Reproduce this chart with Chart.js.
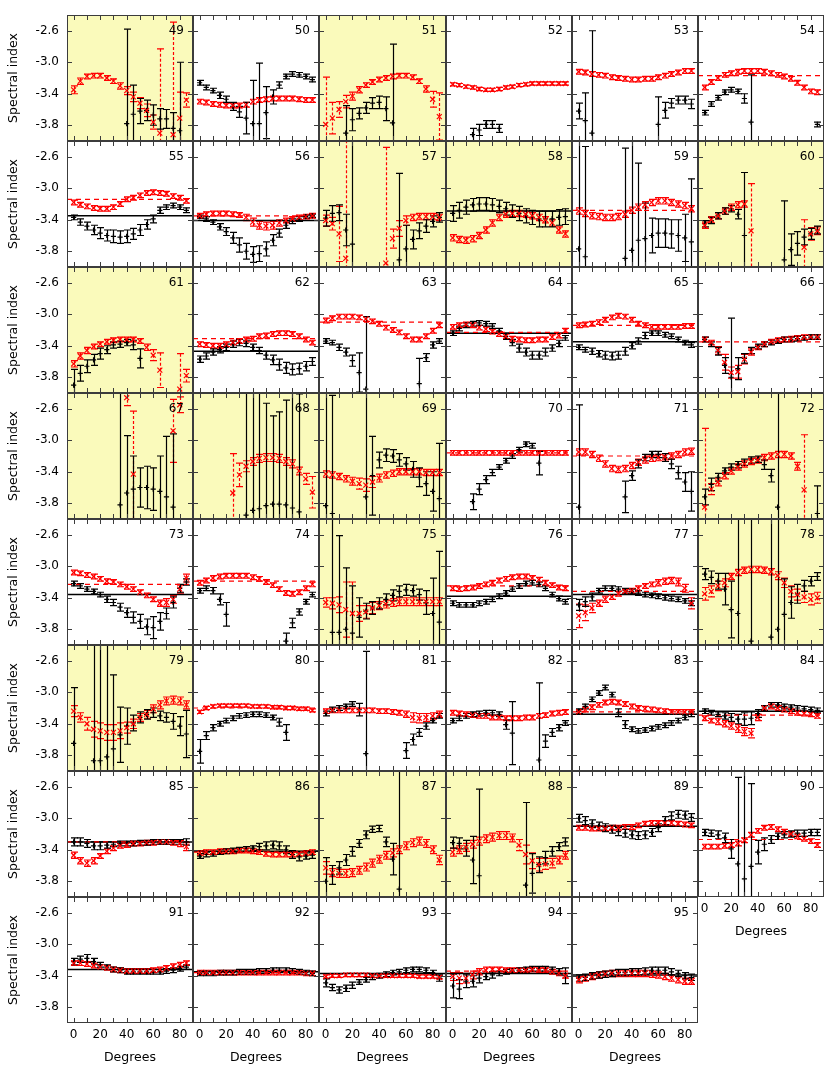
<!DOCTYPE html>
<html>
<head>
<meta charset="utf-8">
<script src="https://cdn.jsdelivr.net/npm/chart.js@4.4.1/dist/chart.umd.min.js"></script>
<style>
  body { margin: 0; background: #fff; }
  #wrap { position: relative; width: 830px; height: 1068px; }
  #wrap canvas { position: absolute; }
</style>
</head>
<body>
<div id="wrap"></div>
<script>
// panel numbers and which ones get the yellow background
const panelIds = [49,50,51,52,53,54,55,56,57,58,59,60,61,62,63,64,65,66,67,68,69,70,71,72,
  73,74,75,76,77,78,79,80,81,82,83,84,85,86,87,88,89,90,91,92,93,94,95];
const highlighted = [49,51,57,58,60,61,67,68,69,72,75,78,79,86,87,88];

const degrees = [0,5,10,15,20,25,30,35,40,45,50,55,60,65,70,75,80,85];
const xTicks = [0,20,40,60,80];
const yTicks = [-3.8,-3.4,-3.0,-2.6];

// black series (one row per panel, 49..95)
const blackMean = [
  [null,null,null,null,null,null,null,null,-3.78,-3.66,-3.62,-3.61,-3.67,-3.72,-3.72,-3.84,-3.87,null],
  [-3.26,-3.32,-3.36,-3.42,-3.47,-3.56,-3.63,-3.71,-3.78,-3.78,-3.64,-3.44,-3.29,-3.18,-3.15,-3.16,-3.18,-3.22],
  [null,null,null,-3.9,-3.73,-3.65,-3.58,-3.52,-3.51,-3.59,-3.77,null,null,null,null,null,null,null],
  [null,null,null,-3.92,-3.86,-3.79,-3.79,-3.84,null,null,null,null,null,null,null,null,null,null],
  [-3.62,-3.74,-3.9,null,null,null,null,null,null,null,null,null,-3.79,-3.61,-3.52,-3.48,-3.48,-3.53],
  [-3.64,-3.53,-3.45,-3.38,-3.35,-3.37,-3.46,-3.76,null,null,null,null,null,null,null,null,null,-3.79],
  [-3.37,-3.43,-3.48,-3.53,-3.57,-3.6,-3.61,-3.62,-3.61,-3.58,-3.53,-3.46,-3.39,-3.28,-3.24,-3.22,-3.24,-3.28],
  [-3.36,-3.39,-3.43,-3.49,-3.55,-3.63,-3.72,-3.8,-3.84,-3.83,-3.77,-3.66,-3.57,-3.47,-3.42,-3.39,-3.36,-3.35],
  [-3.38,-3.32,-3.31,-3.53,-3.71,null,null,null,null,null,null,-3.91,-3.77,-3.65,-3.54,-3.48,-3.42,-3.37],
  [-3.32,-3.28,-3.24,-3.21,-3.2,-3.2,-3.21,-3.23,-3.26,-3.29,-3.32,-3.35,-3.37,-3.39,-3.39,-3.39,-3.37,-3.36],
  [-3.77,-3.87,null,null,null,null,null,-3.89,-3.79,-3.66,-3.64,-3.6,-3.57,-3.57,-3.58,-3.6,-3.63,-3.68],
  [-3.45,-3.41,-3.35,-3.29,-3.26,-3.33,-3.6,null,null,null,null,null,-3.91,-3.78,-3.7,-3.62,-3.58,-3.53],
  [-3.9,-3.75,-3.66,-3.58,-3.5,-3.45,-3.39,-3.38,-3.36,-3.39,-3.56,null,null,null,null,null,null,null],
  [-3.57,-3.53,-3.48,-3.45,-3.42,-3.38,-3.36,-3.37,-3.42,-3.46,-3.52,-3.58,-3.64,-3.68,-3.7,-3.69,-3.66,-3.6],
  [-3.34,-3.36,-3.42,-3.48,-3.59,-3.74,-3.95,null,null,null,null,null,null,null,-3.88,-3.55,-3.39,-3.34],
  [-3.24,-3.18,-3.14,-3.12,-3.11,-3.12,-3.15,-3.21,-3.28,-3.36,-3.43,-3.48,-3.52,-3.52,-3.48,-3.43,-3.37,-3.3],
  [-3.42,-3.45,-3.47,-3.5,-3.52,-3.53,-3.52,-3.47,-3.4,-3.34,-3.27,-3.24,-3.24,-3.26,-3.28,-3.32,-3.36,-3.39],
  [-3.32,-3.38,-3.47,-3.65,-3.8,-3.69,-3.56,-3.46,-3.41,-3.38,-3.36,-3.34,-3.32,-3.32,-3.31,-3.3,-3.29,-3.29],
  [null,null,null,null,null,null,null,-3.82,-3.67,-3.62,-3.6,-3.6,-3.62,-3.65,-3.72,-3.85,null,null],
  [null,null,null,null,null,null,null,-3.95,-3.89,-3.87,-3.83,-3.81,-3.81,-3.82,-3.86,-3.91,null,null],
  [-3.83,-3.93,null,null,null,null,-3.72,-3.45,-3.25,-3.19,-3.2,-3.25,-3.3,-3.37,-3.47,-3.55,-3.65,-3.74],
  [null,null,null,-3.78,-3.62,-3.5,-3.41,-3.34,-3.26,-3.2,-3.12,-3.05,-3.07,-3.29,null,null,null,null],
  [-3.85,null,null,null,null,null,null,-3.72,-3.45,-3.3,-3.22,-3.18,-3.18,-3.22,-3.3,-3.41,-3.53,-3.65],
  [-3.72,-3.56,-3.47,-3.39,-3.34,-3.31,-3.28,-3.25,-3.24,-3.31,-3.45,-3.85,null,null,null,null,null,-3.93],
  [-3.22,-3.25,-3.29,-3.32,-3.36,-3.42,-3.46,-3.52,-3.59,-3.65,-3.7,-3.77,-3.78,-3.7,-3.6,-3.46,-3.28,-3.2],
  [-3.31,-3.28,-3.31,-3.42,-3.61,null,null,null,null,null,null,null,null,-3.95,-3.72,-3.58,-3.45,-3.36],
  [null,-3.84,-3.84,-3.8,-3.85,-3.65,-3.57,-3.53,-3.47,-3.42,-3.37,-3.32,-3.3,-3.31,-3.36,-3.46,-3.6,-3.71],
  [-3.47,-3.49,-3.49,-3.49,-3.47,-3.45,-3.42,-3.38,-3.34,-3.29,-3.25,-3.22,-3.21,-3.23,-3.28,-3.36,-3.41,-3.45],
  [-3.49,-3.45,-3.39,-3.31,-3.28,-3.28,-3.29,-3.31,-3.32,-3.34,-3.36,-3.37,-3.38,-3.4,-3.41,-3.42,-3.44,-3.47],
  [-3.1,-3.14,-3.19,-3.29,-3.55,-3.6,null,-3.95,null,null,-3.9,-3.8,-3.61,-3.46,-3.35,-3.25,-3.19,-3.13],
  [-3.65,null,null,-3.87,-3.87,-3.82,-3.72,-3.54,-3.43,-3.39,-3.32,-3.28,-3.26,-3.3,-3.32,-3.37,-3.43,-3.53],
  [-3.75,-3.55,-3.45,-3.4,-3.36,-3.33,-3.3,-3.29,-3.28,-3.28,-3.29,-3.32,-3.38,-3.51,null,null,null,null],
  [-3.27,-3.22,-3.2,-3.18,-3.15,-3.22,-3.78,null,null,null,null,null,-3.74,-3.6,-3.51,-3.43,-3.36,-3.3],
  [-3.36,-3.33,-3.3,-3.28,-3.27,-3.26,-3.26,-3.28,-3.41,-3.52,null,null,null,-3.86,-3.62,-3.51,-3.45,-3.39],
  [-3.24,-3.18,-3.09,-3.01,-2.94,-3.03,-3.26,-3.41,-3.47,-3.49,-3.48,-3.46,-3.44,-3.42,-3.39,-3.36,-3.32,-3.28],
  [-3.24,-3.26,-3.28,-3.3,-3.32,-3.34,-3.34,-3.33,-3.27,-3.2,-3.16,-3.16,-3.18,-3.19,-3.2,-3.21,-3.22,-3.23],
  [-3.3,-3.3,-3.32,-3.35,-3.35,-3.34,-3.33,-3.32,-3.32,-3.32,-3.31,-3.31,-3.3,-3.3,-3.3,-3.3,-3.3,-3.3],
  [-3.48,-3.46,-3.45,-3.43,-3.42,-3.41,-3.4,-3.39,-3.38,-3.36,-3.35,-3.34,-3.35,-3.4,-3.46,-3.49,-3.48,-3.47],
  [-3.8,-3.72,-3.63,-3.53,-3.42,-3.32,-3.21,-3.14,-3.13,-3.3,-3.52,-3.9,null,null,null,null,null,null],
  [-3.31,-3.32,-3.38,-3.53,-3.73,null,null,null,null,null,null,-3.85,-3.7,-3.59,-3.5,-3.42,-3.36,-3.3],
  [-3.0,-3.03,-3.07,-3.1,-3.12,-3.14,-3.17,-3.19,-3.21,-3.22,-3.21,-3.18,-3.12,-3.03,-2.97,-2.95,-2.96,-2.99],
  [-3.18,-3.19,-3.21,-3.25,-3.39,-3.58,-3.77,-3.61,-3.43,-3.33,-3.27,-3.23,-3.21,-3.2,-3.19,-3.19,-3.18,-3.18],
  [-3.22,-3.19,-3.18,-3.22,-3.26,-3.29,-3.32,-3.33,-3.35,-3.35,-3.35,-3.35,-3.35,-3.35,-3.34,-3.33,-3.31,-3.29],
  [-3.37,-3.37,-3.37,-3.36,-3.36,-3.36,-3.35,-3.35,-3.35,-3.34,-3.34,-3.33,-3.33,-3.33,-3.34,-3.35,-3.36,-3.37],
  [-3.49,-3.55,-3.58,-3.56,-3.52,-3.48,-3.45,-3.42,-3.4,-3.38,-3.36,-3.35,-3.33,-3.32,-3.32,-3.33,-3.36,-3.43],
  [-3.53,-3.57,-3.47,-3.47,-3.43,-3.41,-3.39,-3.37,-3.35,-3.34,-3.33,-3.32,-3.31,-3.31,-3.31,-3.32,-3.35,-3.4],
  [-3.43,-3.42,-3.4,-3.39,-3.38,-3.37,-3.36,-3.36,-3.35,-3.35,-3.34,-3.33,-3.33,-3.33,-3.35,-3.37,-3.4,-3.42]
];
const blackErr = [
  [0,0,0,0,0,0,0,0,1.2,0.37,0.16,0.13,0.13,0.13,0.12,0.2,0.87,0],
  [0.03,0.03,0.03,0.04,0.04,0.05,0.07,0.2,0.55,0.77,0.33,0.09,0.04,0.03,0.03,0.03,0.03,0.03],
  [0,0,0,0.35,0.14,0.07,0.07,0.07,0.08,0.15,1.0,0,0,0,0,0,0,0],
  [0,0,0,0.08,0.07,0.05,0.05,0.05,0,0,0,0,0,0,0,0,0,0],
  [0.1,0.35,1.3,0,0,0,0,0,0,0,0,0,0.35,0.1,0.06,0.05,0.05,0.06],
  [0.03,0.03,0.03,0.03,0.03,0.03,0.06,0.6,0,0,0,0,0,0,0,0,0,0.03],
  [0.03,0.04,0.05,0.06,0.07,0.07,0.08,0.08,0.08,0.07,0.07,0.06,0.05,0.04,0.03,0.03,0.03,0.03],
  [0.02,0.03,0.03,0.04,0.05,0.07,0.09,0.1,0.1,0.1,0.09,0.07,0.05,0.04,0.03,0.03,0.02,0.02],
  [0.1,0.1,0.1,0.2,1.5,0,0,0,0,0,0,1.1,0.3,0.12,0.1,0.08,0.07,0.06],
  [0.1,0.1,0.09,0.08,0.08,0.08,0.08,0.08,0.08,0.08,0.09,0.09,0.09,0.1,0.1,0.1,0.1,0.1],
  [1.4,1.4,0,0,0,0,0,1.4,1.5,0.98,0.45,0.22,0.18,0.18,0.18,0.2,0.3,0.8],
  [0.04,0.04,0.04,0.04,0.04,0.06,0.8,0,0,0,0,0,0.75,0.2,0.15,0.1,0.07,0.05],
  [0.2,0.1,0.08,0.07,0.07,0.05,0.04,0.04,0.04,0.06,0.12,0,0,0,0,0,0,0],
  [0.04,0.04,0.04,0.04,0.04,0.04,0.04,0.04,0.04,0.04,0.05,0.06,0.07,0.07,0.07,0.07,0.06,0.05],
  [0.03,0.03,0.04,0.05,0.07,0.25,0.92,0,0,0,0,0,0,0,0.32,0.05,0.04,0.03],
  [0.03,0.03,0.03,0.03,0.03,0.03,0.03,0.03,0.04,0.04,0.05,0.05,0.05,0.05,0.05,0.04,0.04,0.03],
  [0.03,0.03,0.04,0.04,0.05,0.05,0.05,0.05,0.04,0.04,0.04,0.03,0.03,0.03,0.03,0.03,0.03,0.03],
  [0.03,0.03,0.05,0.1,0.75,0.14,0.06,0.04,0.03,0.03,0.03,0.03,0.03,0.03,0.03,0.03,0.03,0.03],
  [0,0,0,0,0,0,0,1.5,0.73,0.42,0.25,0.27,0.27,0.45,0.77,0.93,0,0],
  [0,0,0,0,0,0,0,1.6,1.5,1.5,1.3,1.12,1.17,1.33,1.5,1.5,0,0],
  [1.5,1.5,0,0,0,0,1.5,0.5,0.1,0.08,0.08,0.08,0.08,0.1,0.12,0.15,0.25,0.7],
  [0,0,0,0.1,0.07,0.05,0.04,0.03,0.03,0.03,0.03,0.03,0.03,0.15,0,0,0,0],
  [1.3,0,0,0,0,0,0,0.2,0.06,0.05,0.04,0.04,0.04,0.05,0.06,0.08,0.12,0.25],
  [0.1,0.08,0.05,0.04,0.04,0.04,0.04,0.04,0.04,0.06,0.08,1.5,0,0,0,0,0,0.35],
  [0.03,0.03,0.03,0.03,0.03,0.04,0.04,0.05,0.06,0.07,0.09,0.1,0.14,0.11,0.07,0.07,0.05,0.04],
  [0.03,0.03,0.04,0.07,0.15,0,0,0,0,0,0,0,0,0.1,0.06,0.04,0.03,0.03],
  [0,1.6,1.23,0.78,0.6,0.25,0.1,0.08,0.07,0.07,0.07,0.07,0.07,0.07,0.07,0.15,0.45,0.9],
  [0.03,0.03,0.03,0.03,0.03,0.03,0.03,0.03,0.03,0.03,0.03,0.03,0.03,0.03,0.03,0.03,0.03,0.03],
  [0.07,0.06,0.05,0.03,0.03,0.03,0.03,0.03,0.03,0.03,0.03,0.03,0.03,0.03,0.03,0.03,0.03,0.03],
  [0.07,0.08,0.1,0.2,0.36,1.2,0,1.6,0,0,1.5,1.4,0.45,0.2,0.12,0.07,0.06,0.05],
  [0.71,0,0,1.5,1.5,1.5,0.94,0.35,0.23,0.1,0.07,0.06,0.06,0.06,0.06,0.1,0.12,0.3],
  [0.15,0.05,0.04,0.03,0.03,0.03,0.03,0.03,0.03,0.03,0.03,0.03,0.05,0.1,0,0,0,0],
  [0.03,0.03,0.03,0.03,0.03,0.08,1.3,0,0,0,0,0,0.1,0.07,0.05,0.04,0.03,0.03],
  [0.03,0.03,0.03,0.03,0.03,0.03,0.03,0.03,0.06,0.4,0,0,0,0.98,0.08,0.05,0.04,0.03],
  [0.03,0.03,0.03,0.03,0.03,0.03,0.05,0.05,0.03,0.03,0.03,0.03,0.03,0.03,0.03,0.03,0.03,0.03],
  [0.03,0.03,0.03,0.04,0.05,0.06,0.08,0.08,0.05,0.03,0.03,0.03,0.03,0.03,0.03,0.03,0.03,0.03],
  [0.05,0.05,0.05,0.05,0.05,0.04,0.03,0.03,0.03,0.03,0.03,0.03,0.03,0.03,0.03,0.03,0.03,0.04],
  [0.03,0.03,0.03,0.03,0.03,0.03,0.03,0.03,0.03,0.04,0.05,0.05,0.05,0.05,0.05,0.05,0.04,0.04],
  [0.3,0.12,0.08,0.07,0.06,0.05,0.05,0.04,0.04,0.06,0.2,1.5,0,0,0,0,0,0],
  [0.07,0.07,0.1,0.3,1.1,0,0,0,0,0,0,1.05,0.25,0.1,0.08,0.06,0.05,0.05],
  [0.05,0.05,0.05,0.05,0.05,0.05,0.05,0.05,0.05,0.05,0.05,0.05,0.05,0.05,0.05,0.05,0.05,0.05],
  [0.04,0.04,0.05,0.06,0.12,1.1,1.4,1.05,0.15,0.08,0.05,0.04,0.04,0.04,0.04,0.04,0.04,0.04],
  [0.04,0.04,0.05,0.04,0.03,0.03,0.03,0.03,0.03,0.03,0.03,0.03,0.03,0.03,0.03,0.03,0.03,0.03],
  [0.03,0.03,0.03,0.03,0.03,0.03,0.03,0.03,0.03,0.03,0.03,0.03,0.03,0.03,0.03,0.03,0.03,0.03],
  [0.05,0.04,0.04,0.04,0.04,0.03,0.03,0.03,0.03,0.03,0.03,0.03,0.03,0.03,0.03,0.03,0.03,0.04],
  [0.15,0.12,0.08,0.07,0.06,0.04,0.04,0.03,0.03,0.03,0.03,0.03,0.03,0.03,0.03,0.03,0.04,0.1],
  [0.04,0.04,0.04,0.04,0.04,0.04,0.04,0.04,0.04,0.04,0.04,0.04,0.04,0.04,0.04,0.04,0.04,0.04]
];

// red series
const redMean = [
  [-3.35,-3.24,-3.18,-3.17,-3.17,-3.2,-3.24,-3.3,-3.36,-3.44,-3.52,-3.61,-3.76,-3.9,null,-3.92,-3.71,-3.48],
  [-3.5,-3.51,-3.53,-3.54,-3.55,-3.55,-3.55,-3.54,-3.5,-3.48,-3.47,-3.46,-3.46,-3.46,-3.46,-3.47,-3.48,-3.48],
  [-3.79,-3.71,-3.6,-3.5,-3.43,-3.35,-3.29,-3.25,-3.22,-3.2,-3.18,-3.17,-3.17,-3.19,-3.24,-3.34,-3.47,-3.69],
  [-3.28,-3.29,-3.31,-3.32,-3.34,-3.35,-3.35,-3.34,-3.32,-3.31,-3.29,-3.28,-3.27,-3.27,-3.27,-3.27,-3.27,-3.27],
  [-3.12,-3.13,-3.15,-3.16,-3.17,-3.19,-3.2,-3.21,-3.22,-3.22,-3.21,-3.21,-3.19,-3.17,-3.15,-3.13,-3.11,-3.11],
  [-3.32,-3.25,-3.2,-3.16,-3.14,-3.12,-3.11,-3.11,-3.11,-3.12,-3.14,-3.16,-3.18,-3.21,-3.26,-3.32,-3.37,-3.38],
  [-3.18,-3.21,-3.23,-3.25,-3.26,-3.26,-3.24,-3.2,-3.14,-3.12,-3.09,-3.06,-3.05,-3.06,-3.07,-3.1,-3.12,-3.16],
  [-3.35,-3.33,-3.32,-3.32,-3.32,-3.33,-3.34,-3.37,-3.43,-3.47,-3.48,-3.47,-3.44,-3.41,-3.39,-3.37,-3.36,-3.35],
  [-3.41,-3.45,-3.58,-3.89,null,null,null,null,null,-3.95,-3.64,-3.51,-3.41,-3.37,-3.36,-3.36,-3.36,-3.37],
  [-3.63,-3.65,-3.66,-3.64,-3.6,-3.53,-3.44,-3.37,-3.33,-3.32,-3.32,-3.33,-3.35,-3.37,-3.4,-3.44,-3.53,-3.58],
  [-3.29,-3.32,-3.35,-3.36,-3.37,-3.37,-3.36,-3.33,-3.28,-3.24,-3.21,-3.18,-3.16,-3.16,-3.18,-3.2,-3.22,-3.26],
  [-3.47,-3.4,-3.35,-3.29,-3.24,-3.21,-3.2,-3.54,null,null,null,null,null,null,null,-3.75,-3.58,-3.54],
  [-3.63,-3.53,-3.46,-3.41,-3.38,-3.35,-3.33,-3.32,-3.32,-3.32,-3.34,-3.42,-3.52,-3.71,null,null,-3.95,-3.78],
  [-3.38,-3.39,-3.4,-3.4,-3.38,-3.36,-3.34,-3.32,-3.31,-3.28,-3.27,-3.25,-3.24,-3.24,-3.25,-3.28,-3.32,-3.36],
  [-3.08,-3.05,-3.03,-3.03,-3.03,-3.04,-3.06,-3.09,-3.12,-3.17,-3.2,-3.23,-3.28,-3.32,-3.32,-3.28,-3.21,-3.14],
  [-3.16,-3.14,-3.13,-3.14,-3.17,-3.19,-3.22,-3.25,-3.28,-3.31,-3.32,-3.33,-3.33,-3.32,-3.32,-3.29,-3.27,-3.21],
  [-3.14,-3.13,-3.12,-3.1,-3.07,-3.04,-3.02,-3.03,-3.07,-3.12,-3.14,-3.16,-3.16,-3.16,-3.16,-3.16,-3.15,-3.15],
  [-3.32,-3.36,-3.46,-3.61,-3.74,-3.73,-3.57,-3.48,-3.42,-3.38,-3.35,-3.33,-3.32,-3.31,-3.3,-3.29,-3.29,-3.29],
  [null,null,null,null,null,null,null,null,-2.46,-3.43,null,null,null,null,null,-2.88,-2.55,null],
  [null,null,null,null,null,-3.67,-3.44,-3.33,-3.27,-3.23,-3.22,-3.22,-3.23,-3.27,-3.3,-3.39,-3.49,-3.66],
  [-3.43,-3.44,-3.46,-3.49,-3.52,-3.55,-3.57,-3.53,-3.48,-3.44,-3.42,-3.4,-3.4,-3.4,-3.4,-3.41,-3.41,-3.41],
  [-3.16,-3.16,-3.16,-3.16,-3.16,-3.16,-3.16,-3.16,-3.16,-3.16,-3.16,-3.16,-3.16,-3.16,-3.16,-3.16,-3.16,-3.16],
  [-3.15,-3.15,-3.18,-3.23,-3.3,-3.36,-3.37,-3.36,-3.32,-3.28,-3.25,-3.23,-3.22,-3.21,-3.2,-3.18,-3.15,-3.14],
  [-3.85,-3.62,-3.53,-3.45,-3.39,-3.34,-3.3,-3.27,-3.25,-3.22,-3.2,-3.18,-3.18,-3.2,-3.33,-3.63,null,null],
  [-3.08,-3.09,-3.11,-3.13,-3.16,-3.19,-3.2,-3.23,-3.26,-3.29,-3.33,-3.37,-3.42,-3.47,-3.46,-3.42,-3.29,-3.15],
  [-3.21,-3.18,-3.15,-3.13,-3.12,-3.12,-3.12,-3.12,-3.14,-3.16,-3.2,-3.24,-3.29,-3.34,-3.35,-3.33,-3.28,-3.23],
  [-3.46,-3.47,-3.49,-3.55,-3.6,-3.6,-3.58,-3.53,-3.5,-3.48,-3.46,-3.45,-3.45,-3.45,-3.45,-3.45,-3.45,-3.45],
  [-3.28,-3.29,-3.28,-3.27,-3.25,-3.23,-3.21,-3.18,-3.16,-3.14,-3.13,-3.13,-3.15,-3.17,-3.21,-3.24,-3.27,-3.28],
  [-3.63,-3.59,-3.53,-3.47,-3.42,-3.39,-3.35,-3.32,-3.31,-3.28,-3.25,-3.23,-3.21,-3.19,-3.18,-3.2,-3.28,-3.47],
  [-3.35,-3.32,-3.25,-3.21,-3.13,-3.08,-3.05,-3.04,-3.04,-3.05,-3.07,-3.12,-3.21,-3.32,-3.36,-3.39,-3.42,-3.4],
  [-3.24,-3.32,-3.4,-3.47,-3.49,-3.51,-3.51,-3.49,-3.45,-3.4,-3.32,-3.28,-3.21,-3.16,-3.11,-3.1,-3.11,-3.16],
  [-3.25,-3.2,-3.18,-3.17,-3.17,-3.17,-3.17,-3.17,-3.18,-3.18,-3.18,-3.19,-3.19,-3.2,-3.2,-3.21,-3.21,-3.23],
  [-3.24,-3.23,-3.23,-3.23,-3.23,-3.23,-3.23,-3.23,-3.24,-3.24,-3.25,-3.26,-3.28,-3.32,-3.33,-3.32,-3.3,-3.28],
  [-3.26,-3.27,-3.28,-3.29,-3.3,-3.3,-3.32,-3.32,-3.33,-3.33,-3.33,-3.32,-3.32,-3.3,-3.29,-3.27,-3.26,-3.25],
  [-3.25,-3.22,-3.19,-3.16,-3.13,-3.12,-3.13,-3.15,-3.18,-3.2,-3.21,-3.22,-3.23,-3.24,-3.25,-3.25,-3.25,-3.25],
  [-3.33,-3.36,-3.37,-3.4,-3.43,-3.46,-3.5,-3.52,-3.32,-3.2,-3.18,-3.2,-3.22,-3.24,-3.26,-3.27,-3.28,-3.3],
  [-3.47,-3.54,-3.57,-3.54,-3.48,-3.42,-3.38,-3.35,-3.34,-3.32,-3.32,-3.31,-3.31,-3.3,-3.3,-3.31,-3.32,-3.36],
  [-3.44,-3.43,-3.43,-3.42,-3.42,-3.42,-3.41,-3.41,-3.42,-3.43,-3.45,-3.46,-3.46,-3.46,-3.46,-3.45,-3.44,-3.43],
  [-3.63,-3.69,-3.7,-3.7,-3.69,-3.66,-3.62,-3.57,-3.52,-3.47,-3.44,-3.4,-3.35,-3.31,-3.29,-3.32,-3.4,-3.53],
  [-3.43,-3.4,-3.37,-3.33,-3.29,-3.26,-3.24,-3.22,-3.22,-3.25,-3.34,-3.46,-3.54,-3.59,-3.58,-3.57,-3.53,-3.47],
  [-3.12,-3.12,-3.13,-3.13,-3.13,-3.12,-3.12,-3.11,-3.11,-3.09,-3.07,-3.06,-3.06,-3.06,-3.06,-3.07,-3.08,-3.09],
  [-3.36,-3.36,-3.36,-3.35,-3.34,-3.32,-3.28,-3.21,-3.16,-3.12,-3.11,-3.14,-3.17,-3.2,-3.23,-3.26,-3.29,-3.34],
  [-3.24,-3.24,-3.25,-3.27,-3.29,-3.3,-3.32,-3.33,-3.34,-3.34,-3.34,-3.34,-3.33,-3.32,-3.3,-3.28,-3.26,-3.24],
  [-3.36,-3.36,-3.36,-3.36,-3.36,-3.36,-3.36,-3.36,-3.36,-3.36,-3.36,-3.36,-3.36,-3.36,-3.36,-3.36,-3.37,-3.37],
  [-3.41,-3.4,-3.4,-3.39,-3.39,-3.39,-3.39,-3.4,-3.4,-3.4,-3.4,-3.4,-3.4,-3.4,-3.41,-3.41,-3.41,-3.42],
  [-3.41,-3.43,-3.43,-3.39,-3.35,-3.33,-3.32,-3.32,-3.33,-3.33,-3.33,-3.33,-3.32,-3.33,-3.33,-3.35,-3.37,-3.4],
  [-3.45,-3.43,-3.41,-3.39,-3.38,-3.37,-3.37,-3.37,-3.37,-3.37,-3.37,-3.38,-3.39,-3.41,-3.43,-3.45,-3.47,-3.47]
];
const redErr = [
  [0.05,0.04,0.03,0.03,0.03,0.03,0.03,0.04,0.05,0.06,0.07,0.08,0.09,1.07,0,1.43,0.33,0.09],
  [0.03,0.03,0.03,0.03,0.03,0.03,0.03,0.03,0.03,0.03,0.03,0.03,0.03,0.03,0.03,0.03,0.03,0.03],
  [0.6,0.2,0.1,0.08,0.05,0.04,0.03,0.03,0.03,0.03,0.03,0.03,0.03,0.03,0.03,0.04,0.1,0.3],
  [0.02,0.02,0.02,0.02,0.02,0.02,0.02,0.02,0.02,0.02,0.02,0.02,0.02,0.02,0.02,0.02,0.02,0.02],
  [0.03,0.03,0.03,0.03,0.03,0.03,0.03,0.03,0.03,0.03,0.03,0.03,0.03,0.03,0.03,0.03,0.03,0.03],
  [0.03,0.03,0.03,0.03,0.03,0.03,0.03,0.03,0.03,0.03,0.03,0.03,0.03,0.03,0.03,0.03,0.03,0.03],
  [0.03,0.03,0.03,0.03,0.03,0.03,0.03,0.03,0.03,0.03,0.03,0.03,0.03,0.03,0.03,0.03,0.03,0.03],
  [0.03,0.03,0.03,0.03,0.03,0.03,0.03,0.04,0.05,0.05,0.05,0.05,0.04,0.03,0.03,0.03,0.03,0.03],
  [0.07,0.08,0.35,1.5,0,0,0,0,0,1.47,0.12,0.1,0.06,0.04,0.04,0.04,0.04,0.04],
  [0.04,0.04,0.04,0.04,0.04,0.04,0.04,0.04,0.04,0.04,0.04,0.04,0.04,0.04,0.04,0.04,0.04,0.04],
  [0.04,0.04,0.04,0.04,0.04,0.04,0.04,0.04,0.04,0.04,0.04,0.04,0.04,0.04,0.04,0.04,0.04,0.04],
  [0.04,0.04,0.04,0.04,0.04,0.04,0.04,0.6,0,0,0,0,0,0,0,0.35,0.08,0.05],
  [0.04,0.04,0.04,0.03,0.03,0.03,0.03,0.03,0.03,0.03,0.03,0.04,0.07,0.22,0,0,0.45,0.08],
  [0.03,0.03,0.03,0.03,0.03,0.03,0.03,0.03,0.03,0.03,0.03,0.03,0.03,0.03,0.03,0.03,0.03,0.03],
  [0.03,0.03,0.03,0.03,0.03,0.03,0.03,0.03,0.03,0.03,0.03,0.03,0.03,0.03,0.03,0.03,0.03,0.03],
  [0.03,0.03,0.03,0.03,0.03,0.03,0.03,0.03,0.03,0.03,0.03,0.03,0.03,0.03,0.03,0.03,0.03,0.03],
  [0.03,0.03,0.03,0.03,0.03,0.03,0.03,0.03,0.03,0.03,0.03,0.03,0.03,0.03,0.03,0.03,0.03,0.03],
  [0.03,0.03,0.05,0.1,0.07,0.08,0.06,0.04,0.03,0.03,0.03,0.03,0.03,0.03,0.03,0.03,0.03,0.03],
  [0,0,0,0,0,0,0,0,0.1,0.8,0,0,0,0,0,0.4,0.1,0],
  [0,0,0,0,0,0.5,0.15,0.07,0.05,0.05,0.05,0.05,0.05,0.05,0.05,0.05,0.07,0.2],
  [0.04,0.04,0.04,0.04,0.05,0.07,0.08,0.07,0.05,0.04,0.04,0.04,0.04,0.04,0.04,0.04,0.04,0.04],
  [0.03,0.03,0.03,0.03,0.03,0.03,0.03,0.03,0.03,0.03,0.03,0.03,0.03,0.03,0.03,0.03,0.03,0.03],
  [0.04,0.04,0.04,0.04,0.04,0.04,0.04,0.04,0.04,0.04,0.04,0.04,0.04,0.04,0.04,0.04,0.04,0.04],
  [1.0,0.07,0.05,0.04,0.04,0.04,0.04,0.04,0.04,0.04,0.04,0.04,0.04,0.04,0.05,0.7,0,0],
  [0.03,0.03,0.03,0.03,0.03,0.03,0.03,0.03,0.03,0.03,0.03,0.03,0.03,0.04,0.05,0.05,0.05,0.05],
  [0.03,0.03,0.03,0.03,0.03,0.03,0.03,0.03,0.03,0.03,0.03,0.03,0.03,0.03,0.03,0.03,0.03,0.03],
  [0.06,0.07,0.1,0.35,0.4,0.1,0.08,0.07,0.05,0.05,0.05,0.05,0.05,0.05,0.05,0.05,0.05,0.05],
  [0.03,0.03,0.03,0.03,0.03,0.03,0.03,0.03,0.03,0.03,0.03,0.03,0.03,0.03,0.03,0.03,0.03,0.03],
  [0.15,0.1,0.06,0.04,0.04,0.03,0.03,0.03,0.03,0.03,0.03,0.03,0.04,0.04,0.04,0.05,0.05,0.07],
  [0.08,0.07,0.06,0.05,0.04,0.04,0.04,0.04,0.04,0.04,0.04,0.05,0.06,0.07,0.07,0.07,0.07,0.07],
  [0.07,0.06,0.08,0.1,0.1,0.1,0.1,0.1,0.07,0.06,0.05,0.05,0.05,0.05,0.05,0.05,0.05,0.05],
  [0.02,0.02,0.02,0.02,0.02,0.02,0.02,0.02,0.02,0.02,0.02,0.02,0.02,0.02,0.02,0.02,0.02,0.02],
  [0.03,0.03,0.03,0.03,0.03,0.03,0.03,0.03,0.03,0.03,0.03,0.03,0.04,0.06,0.06,0.05,0.04,0.04],
  [0.03,0.03,0.03,0.03,0.03,0.03,0.03,0.03,0.03,0.03,0.03,0.03,0.03,0.03,0.03,0.03,0.03,0.03],
  [0.03,0.03,0.03,0.03,0.03,0.03,0.03,0.03,0.03,0.03,0.03,0.03,0.03,0.03,0.03,0.03,0.03,0.03],
  [0.03,0.03,0.04,0.04,0.04,0.05,0.05,0.06,0.04,0.03,0.03,0.03,0.03,0.03,0.03,0.03,0.03,0.03],
  [0.04,0.04,0.04,0.04,0.03,0.03,0.03,0.03,0.03,0.03,0.03,0.03,0.03,0.03,0.03,0.03,0.04,0.05],
  [0.03,0.03,0.03,0.03,0.03,0.03,0.03,0.03,0.03,0.03,0.03,0.03,0.03,0.03,0.03,0.03,0.03,0.03],
  [0.08,0.05,0.05,0.05,0.05,0.05,0.05,0.05,0.05,0.05,0.05,0.05,0.05,0.05,0.05,0.05,0.05,0.06],
  [0.05,0.05,0.05,0.05,0.05,0.05,0.05,0.05,0.05,0.05,0.07,0.12,0.1,0.08,0.07,0.06,0.05,0.05],
  [0.03,0.03,0.03,0.03,0.03,0.03,0.03,0.03,0.03,0.03,0.03,0.03,0.03,0.03,0.03,0.03,0.03,0.03],
  [0.03,0.03,0.03,0.03,0.03,0.03,0.03,0.03,0.03,0.03,0.03,0.03,0.03,0.03,0.03,0.03,0.03,0.03],
  [0.03,0.03,0.03,0.03,0.03,0.03,0.03,0.03,0.03,0.03,0.03,0.03,0.03,0.03,0.03,0.03,0.03,0.03],
  [0.03,0.03,0.03,0.03,0.03,0.03,0.03,0.03,0.03,0.03,0.03,0.03,0.03,0.03,0.03,0.03,0.03,0.03],
  [0.02,0.02,0.02,0.02,0.02,0.02,0.02,0.02,0.02,0.02,0.02,0.02,0.02,0.02,0.02,0.02,0.02,0.02],
  [0.05,0.07,0.06,0.05,0.04,0.04,0.03,0.03,0.03,0.03,0.03,0.03,0.03,0.03,0.03,0.03,0.03,0.03],
  [0.04,0.04,0.04,0.04,0.04,0.04,0.04,0.04,0.04,0.04,0.04,0.04,0.04,0.04,0.04,0.04,0.04,0.04]
];

// horizontal reference levels (null = not drawn)
const blackLevel = [null,null,null,null,null,null, -3.35,-3.41,null,-3.29,null,null,
  null,-3.47,null,-3.24,-3.35,null, null,null,null,null,null,null,
  -3.36,null,null,-3.38,-3.36,null, null,null,null,null,-3.28,-3.24,
  -3.3,-3.42,null,null,-3.1,null, -3.32,-3.35,-3.37,-3.37,-3.39];
const redLevel = [null,null,null,null,null,-3.17, -3.14,-3.35,null,null,-3.28,null,
  null,-3.31,-3.1,-3.23,-3.14,-3.35, null,null,null,-3.16,-3.2,null,
  -3.23,-3.19,null,-3.25,-3.32,null, null,-3.2,null,null,-3.25,-3.29,
  -3.3,-3.43,null,null,null,-3.27, null,-3.36,null,-3.34,null];

// grid geometry of the figure
const colX = [67, 193, 319, 446, 572, 698, 824];
const rowY = [15, 141, 267, 393, 519, 645, 771, 897, 1023];
const FONT = 'DejaVu Sans';

const errorBars = {
  id: 'errorBars',
  beforeDatasetsDraw(chart) {
    const {ctx, chartArea: a, scales: {x, y}} = chart;
    ctx.save();
    ctx.beginPath();
    ctx.rect(a.left, a.top, a.right - a.left, a.bottom - a.top);
    ctx.clip();
    chart.data.datasets.forEach(ds => {
      if (!ds.withErrors) return;
      ctx.strokeStyle = ds.borderColor;
      ctx.lineWidth = 1.2;
      ds.data.forEach(p => {
        if (!p.e) return;
        const px = Math.round(x.getPixelForValue(p.x)) + 0.5;
        const y1 = y.getPixelForValue(p.y + p.e);
        const y2 = y.getPixelForValue(p.y - p.e);
        ctx.setLineDash(ds.errDash);
        ctx.beginPath();
        ctx.moveTo(px, y1); ctx.lineTo(px, y2);
        ctx.stroke();
        ctx.setLineDash([]);
        ctx.beginPath();
        ctx.moveTo(px - 3.5, y1); ctx.lineTo(px + 3.5, y1);
        ctx.moveTo(px - 3.5, y2); ctx.lineTo(px + 3.5, y2);
        ctx.stroke();
      });
    });
    ctx.restore();
  }
};

const panelDeco = {
  id: 'panelDeco',
  beforeDraw(chart, args, opts) {
    if (!opts.yellow) return;
    const {ctx, chartArea: a} = chart;
    ctx.save();
    ctx.fillStyle = '#fafabb';
    ctx.fillRect(a.left, a.top, a.right - a.left, a.bottom - a.top);
    ctx.restore();
  },
  afterDraw(chart, args, opts) {
    const {ctx, chartArea: a, scales: {x, y}} = chart;
    ctx.save();
    ctx.strokeStyle = '#3c3c3c';
    ctx.lineWidth = 1;
    ctx.beginPath();
    xTicks.concat([10, 30, 50, 70]).forEach(v => {
      const px = Math.round(x.getPixelForValue(v)) + 0.5;
      ctx.moveTo(px, a.top); ctx.lineTo(px, a.top + 5);
      ctx.moveTo(px, a.bottom); ctx.lineTo(px, a.bottom - 5);
    });
    yTicks.forEach(v => {
      const py = Math.round(y.getPixelForValue(v)) + 0.5;
      ctx.moveTo(a.left, py); ctx.lineTo(a.left + 5, py);
      ctx.moveTo(a.right, py); ctx.lineTo(a.right - 5, py);
    });
    ctx.stroke();
    ctx.strokeRect(a.left + 0.5, a.top + 0.5, a.right - a.left - 1, a.bottom - a.top - 1);
    ctx.fillStyle = '#000';
    ctx.font = '12px "' + FONT + '"';
    ctx.textAlign = 'right';
    ctx.textBaseline = 'middle';
    ctx.fillText(String(opts.label), a.right - 9, y.getPixelForValue(-2.6));
    ctx.restore();
  }
};

const wrap = document.getElementById('wrap');

panelIds.forEach((id, k) => {
  const row = Math.floor(k / 6), col = k % 6;
  const isLeft = col === 0;
  const isBottom = row === 7 || (row === 6 && col === 5);
  const left = isLeft ? 0 : colX[col];
  const w = colX[col + 1] - left;
  const h = rowY[row + 1] - rowY[row] + (isBottom ? 45 : 0);

  const cv = document.createElement('canvas');
  cv.width = w; cv.height = h;
  cv.style.left = left + 'px';
  cv.style.top = rowY[row] + 'px';
  cv.style.width = w + 'px';
  cv.style.height = h + 'px';
  wrap.appendChild(cv);

  const blackPts = [], redPts = [];
  degrees.forEach((d, i) => {
    if (blackMean[k][i] !== null) blackPts.push({x: d, y: blackMean[k][i], e: blackErr[k][i]});
    if (redMean[k][i] !== null) redPts.push({x: d, y: redMean[k][i], e: redErr[k][i]});
  });
  const bl = blackLevel[k] === null ? [] : [{x: -5, y: blackLevel[k]}, {x: 90, y: blackLevel[k]}];
  const rl = redLevel[k] === null ? [] : [{x: -5, y: redLevel[k]}, {x: 90, y: redLevel[k]}];

  new Chart(cv, {
    type: 'scatter',
    data: {
      datasets: [
        {data: redPts, pointStyle: 'crossRot', pointRadius: 3.5, borderColor: '#ff0000', borderWidth: 1.2,
         withErrors: true, errDash: [3, 2]},
        {data: blackPts, pointStyle: 'cross', pointRadius: 2.6, borderColor: '#000000', borderWidth: 1.2,
         withErrors: true, errDash: []},
        {type: 'line', data: rl, borderColor: '#ff0000', borderWidth: 1.2, borderDash: [5, 4], pointRadius: 0},
        {type: 'line', data: bl, borderColor: '#000000', borderWidth: 1.5, pointRadius: 0}
      ]
    },
    options: {
      responsive: false,
      animation: false,
      devicePixelRatio: 1,
      layout: {padding: 0, autoPadding: false},
      plugins: {
        legend: {display: false},
        tooltip: {enabled: false},
        panelDeco: {label: id, yellow: highlighted.includes(id)}
      },
      scales: {
        x: {
          type: 'linear', min: -5, max: 90,
          display: isBottom,
          grid: {display: false, drawTicks: false},
          border: {display: false},
          afterBuildTicks: s => { s.ticks = xTicks.map(v => ({value: v})); },
          afterFit: s => {
            s.height = isBottom ? 45 : 0;
            s.paddingLeft = 0; s.paddingRight = 0;
          },
          ticks: {color: '#000', font: {family: FONT, size: 12}, padding: 5, maxRotation: 0, autoSkip: false},
          title: {display: true, text: 'Degrees', color: '#000', font: {family: FONT, size: 12.5},
                  padding: {top: 0, bottom: 3}}
        },
        y: {
          type: 'linear', min: -4.0, max: -2.4,
          display: isLeft,
          grid: {display: false, drawTicks: false},
          border: {display: false},
          afterBuildTicks: s => { s.ticks = yTicks.map(v => ({value: v})); },
          afterFit: s => {
            s.width = isLeft ? 67 : 0;
            s.paddingTop = 0; s.paddingBottom = 0;
          },
          ticks: {color: '#000', font: {family: FONT, size: 12}, padding: 8,
                  callback: v => v.toFixed(1)},
          title: {display: true, text: 'Spectral index', color: '#000', font: {family: FONT, size: 12.5},
                  padding: {top: 6, bottom: 0}}
        }
      }
    },
    plugins: [errorBars, panelDeco]
  });
});
</script>
</body>
</html>
